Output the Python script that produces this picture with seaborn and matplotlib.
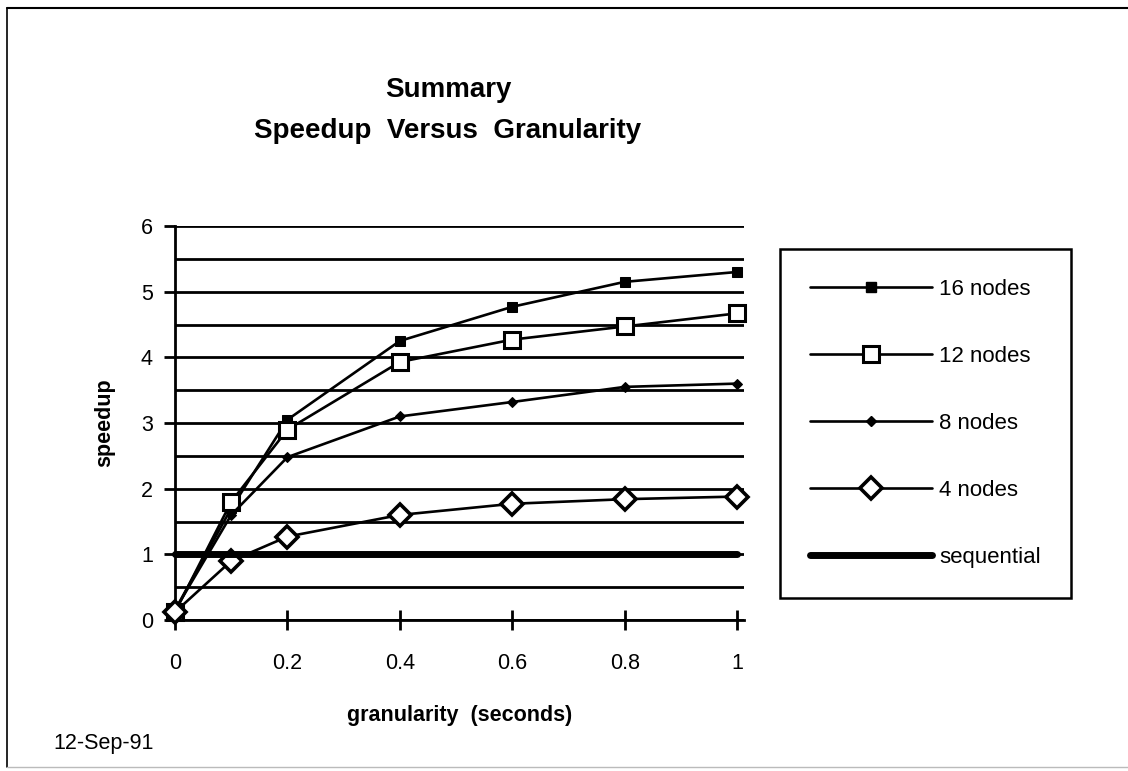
import matplotlib
matplotlib.use("Agg")
import matplotlib.pyplot as plt
import seaborn as sns
import pandas as pd
from matplotlib.lines import Line2D
from matplotlib.ticker import MultipleLocator

# ---- data ----
granularity = [0.0, 0.1, 0.2, 0.4, 0.6, 0.8, 1.0]
nodes16 = [0.15, 1.70, 3.05, 4.25, 4.77, 5.15, 5.30]
nodes12 = [0.12, 1.80, 2.90, 3.93, 4.27, 4.47, 4.67]
nodes8 = [0.15, 1.60, 2.48, 3.10, 3.32, 3.55, 3.60]
nodes4 = [0.12, 0.90, 1.27, 1.60, 1.77, 1.84, 1.88]
sequential = [1.0, 1.0, 1.0, 1.0, 1.0, 1.0, 1.0]
series_names = ["16 nodes", "12 nodes", "8 nodes", "4 nodes", "sequential"]
xticks = [0, 0.2, 0.4, 0.6, 0.8, 1]
xticklabels = ["0", "0.2", "0.4", "0.6", "0.8", "1"]
yticks = [0, 1, 2, 3, 4, 5, 6]

sns.set_style("white")
plt.rcParams["font.family"] = ["Liberation Sans", "DejaVu Sans"]
plt.rcParams.update({"text.color": "black", "axes.labelcolor": "black",
                     "xtick.color": "black", "ytick.color": "black"})

W, H = 1128, 771
fig = plt.figure(figsize=(W / 100, H / 100), dpi=100)
x0, x1 = 175, 744
y_top, y_bot = 226, 620
ax = fig.add_axes([x0 / W, 1 - y_bot / H, (x1 - x0) / W, (y_bot - y_top) / H])

styles = {
    "16 nodes": dict(marker="s", markersize=6.5, markerfacecolor="black", markeredgecolor="black", lw=1.9),
    "12 nodes": dict(marker="s", markersize=11, markerfacecolor="white", markeredgecolor="black",
                     markeredgewidth=2.2, lw=1.9),
    "8 nodes": dict(marker="D", markersize=5.5, markerfacecolor="black", markeredgecolor="black", lw=1.9),
    "4 nodes": dict(marker="D", markersize=11, markerfacecolor="white", markeredgecolor="black",
                    markeredgewidth=2.6, lw=1.9),
    "sequential": dict(marker=None, lw=5.0),
}
values = [nodes16, nodes12, nodes8, nodes4, sequential]

handles = []
for name, vals in zip(series_names, values):
    df = pd.DataFrame({"granularity": granularity, "speedup": vals})
    st = styles[name]
    sns.lineplot(data=df, x="granularity", y="speedup", ax=ax, color="black",
                 clip_on=False, zorder=5, **st)
    handles.append(Line2D([0], [0], color="black", **st))

ax.set_xlim(0, 1.012)
ax.set_ylim(0, 6)
ax.set_xticks(xticks)
ax.set_xticklabels(xticklabels)
ax.set_yticks(yticks)
ax.yaxis.set_minor_locator(MultipleLocator(0.5))
ax.grid(which="both", axis="y", color="black", lw=2.0)
ax.grid(axis="x", visible=False)
ax.set_axisbelow(True)

for s in ["top", "right"]:
    ax.spines[s].set_visible(False)
for s in ["left", "bottom"]:
    ax.spines[s].set_color("black")
    ax.spines[s].set_linewidth(2.0)

ax.tick_params(axis="y", which="major", direction="out", length=8, width=2, pad=8,
               labelsize=15.5, colors="black", left=True)
ax.tick_params(axis="y", which="minor", length=0)
ax.tick_params(axis="x", direction="inout", length=14, width=2, pad=17,
               labelsize=15.5, colors="black", bottom=True)

ax.set_xlabel("granularity  (seconds)", fontsize=15.5, fontweight="bold", labelpad=22)
ax.set_ylabel("speedup", fontsize=15.5, fontweight="bold", labelpad=18)

fig.text(448 / W, 1 - 90 / H, "Summary", ha="center", va="center", fontsize=20, fontweight="bold")
fig.text(448 / W, 1 - 131 / H, "Speedup  Versus  Granularity", ha="center", va="center",
         fontsize=20, fontweight="bold")
fig.text(53 / W, 1 - 744 / H, "12-Sep-91", ha="left", va="center", fontsize=15.5)

leg = fig.legend(handles, series_names, loc="upper left",
                 bbox_to_anchor=(780 / W, 1 - 249 / H), frameon=True, fancybox=False,
                 edgecolor="black", framealpha=1.0, fontsize=16, handlelength=5.5,
                 handletextpad=0.3, labelspacing=2.07, borderpad=1.35, borderaxespad=0)
leg.get_frame().set_linewidth(1.8)

# outer frame of the page
fig.add_artist(Line2D([7 / W, 1.0], [1 - 8 / H, 1 - 8 / H], transform=fig.transFigure, color="black", lw=1.5))
fig.add_artist(Line2D([7 / W, 7 / W], [1 - 8 / H, 1 - 767 / H], transform=fig.transFigure, color="black", lw=1.2))
fig.add_artist(Line2D([7 / W, 1.0], [1 - 767 / H, 1 - 767 / H], transform=fig.transFigure, color="#bbbbbb", lw=1.0))

fig.savefig("out.png", dpi=100, facecolor="white")
